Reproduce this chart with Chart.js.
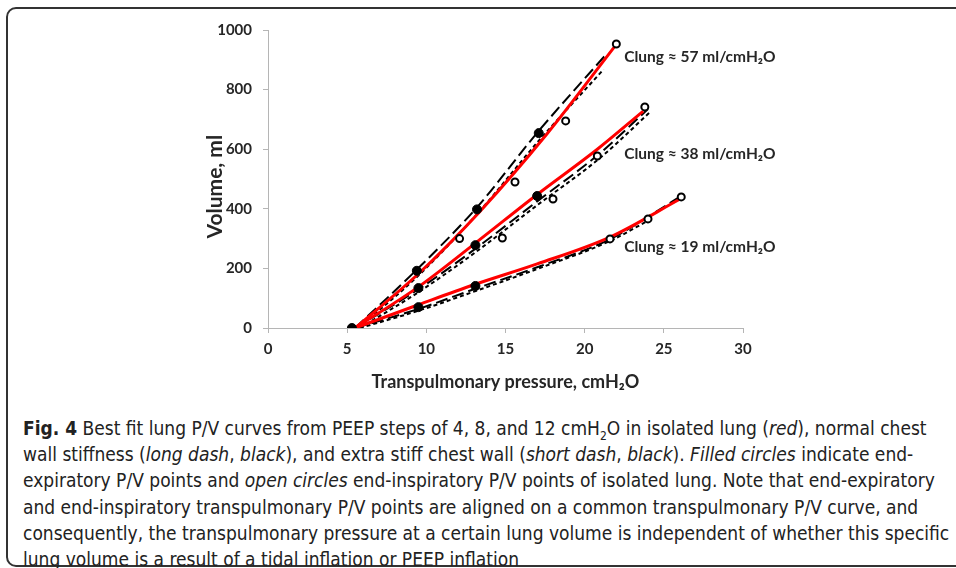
<!DOCTYPE html>
<html>
<head>
<meta charset="utf-8">
<script src="https://cdn.jsdelivr.net/npm/chart.js@4.4.0/dist/chart.umd.min.js"></script>
<style>
  body { margin: 0; background: #fff; width: 956px; height: 568px; overflow: hidden; position: relative; }
  #frame { position: absolute; left: 6px; top: 7px; width: 1000px; height: 560px; box-sizing: border-box;
           border: 2px solid #333; border-radius: 10px; }
  #chart { position: absolute; left: 0; top: 0; }
  #caption { position: absolute; left: 23px; top: 415px; font-family: "DejaVu Sans Condensed", "DejaVu Sans", sans-serif;
             font-size: 19px; line-height: 26.2px; color: #222; white-space: nowrap; }
  #caption .sub { font-size: 12px; position: relative; top: 5px; line-height: 0; }
</style>
</head>
<body>
<div id="frame"></div>
<canvas id="chart" width="956" height="400"></canvas>
<div id="caption">
  <div><b>Fig. 4</b> Best fit lung P/V curves from PEEP steps of 4, 8, and 12 cmH<span class="sub">2</span>O in isolated lung (<i>red</i>), normal chest</div>
  <div>wall stiffness (<i>long dash</i>, <i>black</i>), and extra stiff chest wall (<i>short dash</i>, <i>black</i>). <i>Filled circles</i> indicate end-</div>
  <div>expiratory P/V points and <i>open circles</i> end-inspiratory P/V points of isolated lung. Note that end-expiratory</div>
  <div>and end-inspiratory transpulmonary P/V points are aligned on a common transpulmonary P/V curve, and</div>
  <div>consequently, the transpulmonary pressure at a certain lung volume is independent of whether this specific</div>
  <div>lung volume is a result of a tidal inflation or PEEP inflation</div>
</div>
<script>
// measured points (end-expiratory = filled, end-inspiratory = open)
const filledX = [5.3, 9.4, 13.2, 17.1, 9.5, 13.1, 17.0, 9.5, 13.1];
const filledY = [0, 192, 398, 654, 134, 278, 443, 70, 141];
const openX = [12.1, 15.6, 18.8, 22.0, 14.8, 18.0, 20.8, 23.8, 21.6, 24.0, 26.1];
const openY = [300, 490, 695, 953, 302, 433, 577, 742, 299, 366, 440];

// fitted curves
const red57X = [5.5, 9.5, 13.4, 17.6, 22.0];
const red57Y = [0, 182, 392, 650, 952];
const red38X = [5.5, 9.5, 13.1, 17.0, 20.8, 23.7];
const red38Y = [0, 138, 285, 448, 600, 728];
const red19X = [5.5, 9.5, 13.0, 17.0, 21.6, 26.0];
const red19Y = [0, 78, 145, 215, 305, 432];

const long57X = [5.5, 9.4, 13.2, 17.0, 21.3];
const long57Y = [0, 196, 405, 655, 915];
const short57X = [5.7, 9.5, 13.2, 17.0, 21.2];
const short57Y = [0, 176, 382, 622, 868];
const long38X = [5.5, 9.5, 13.0, 17.0, 21.0, 24.0];
const long38Y = [0, 130, 262, 425, 588, 735];
const short38X = [5.8, 9.5, 13.0, 17.0, 21.0, 24.2];
const short38Y = [0, 120, 250, 412, 572, 728];
const long19X = [5.5, 9.5, 13.0, 17.0, 21.6, 24.5, 26.0];
const long19Y = [0, 64, 130, 204, 298, 390, 440];
const short19X = [5.8, 9.5, 13.0, 17.0, 21.6, 24.0];
const short19Y = [0, 58, 122, 198, 292, 360];

const xTicks = [0, 5, 10, 15, 20, 25, 30];
const yTicks = [0, 200, 400, 600, 800, 1000];

const labelText = ['Clung \u2248 57 ml/cmH\u2082O', 'Clung \u2248 38 ml/cmH\u2082O', 'Clung \u2248 19 ml/cmH\u2082O'];
const labelX = [22.5, 22.5, 22.5];
const labelY = [909, 584, 272];

function pts(xs, ys) { return xs.map((x, i) => ({x: x, y: ys[i]})); }

function curve(xs, ys, color, width, dash, order) {
  return {
    type: 'line', data: pts(xs, ys), borderColor: color, borderWidth: width, borderDash: dash,
    pointRadius: 0, fill: false, cubicInterpolationMode: 'monotone', order: order
  };
}

const fam = 'Lato, "Open Sans", sans-serif';
const tickFont = {family: fam, size: 15, weight: 'bold'};

const labelPlugin = {
  id: 'clungLabels',
  afterDatasetsDraw(chart) {
    const ctx = chart.ctx, xs = chart.scales.x, ys = chart.scales.y;
    ctx.save();
    ctx.font = 'bold 15.5px ' + fam;
    ctx.fillStyle = '#262626';
    ctx.textAlign = 'left';
    ctx.textBaseline = 'middle';
    labelText.forEach((t, i) => ctx.fillText(t, xs.getPixelForValue(labelX[i]), ys.getPixelForValue(labelY[i])));
    ctx.restore();
  }
};

new Chart(document.getElementById('chart').getContext('2d'), {
  type: 'scatter',
  data: {
    datasets: [
      {data: pts(filledX, filledY), backgroundColor: '#000', borderColor: '#000', borderWidth: 1, pointRadius: 4.5, order: 0},
      {data: pts(openX, openY), backgroundColor: '#fff', borderColor: '#000', borderWidth: 2, pointRadius: 3.5, order: 0},
      curve(red57X, red57Y, '#ff0000', 3, [], 1),
      curve(red38X, red38Y, '#ff0000', 3, [], 1),
      curve(red19X, red19Y, '#ff0000', 3, [], 1),
      curve(long57X, long57Y, '#000', 2, [12, 5], 2),
      curve(short57X, short57Y, '#000', 2, [4, 3], 2),
      curve(long38X, long38Y, '#000', 2, [12, 5], 2),
      curve(short38X, short38Y, '#000', 2, [4, 3], 2),
      curve(long19X, long19Y, '#000', 2, [12, 5], 2),
      curve(short19X, short19Y, '#000', 2, [4, 3], 2)
    ]
  },
  options: {
    responsive: false,
    animation: false,
    devicePixelRatio: 1,
    layout: {padding: {top: 30, right: 213, bottom: 0, left: 0}},
    plugins: {legend: {display: false}, tooltip: {enabled: false}},
    scales: {
      x: {
        type: 'linear', min: 0, max: 30,
        afterFit(s) { s.height = 72; },
        afterBuildTicks(s) { s.ticks = xTicks.map(v => ({value: v})); },
        border: {color: '#b5b5b5', width: 1},
        grid: {drawOnChartArea: false, drawTicks: true, tickLength: 5, color: '#b5b5b5'},
        ticks: {font: tickFont, color: '#262626', padding: 7, callback: v => String(v)},
        title: {display: true, text: 'Transpulmonary pressure, cmH\u2082O', color: '#262626',
                font: {family: fam, size: 18, weight: 'bold'}, padding: {top: 0, bottom: 7}}
      },
      y: {
        type: 'linear', min: 0, max: 1000,
        afterFit(s) { s.width = 268; },
        afterBuildTicks(s) { s.ticks = yTicks.map(v => ({value: v})); },
        border: {color: '#b5b5b5', width: 1},
        grid: {drawOnChartArea: false, drawTicks: true, tickLength: 5, color: '#b5b5b5'},
        ticks: {font: tickFont, color: '#262626', padding: 11, callback: v => String(v)},
        title: {display: true, text: 'Volume, ml   ', color: '#262626',
                font: {family: fam, size: 21, weight: 'bold'}, padding: {top: 203, bottom: 0}}
      }
    }
  },
  plugins: [labelPlugin]
});
</script>
</body>
</html>
